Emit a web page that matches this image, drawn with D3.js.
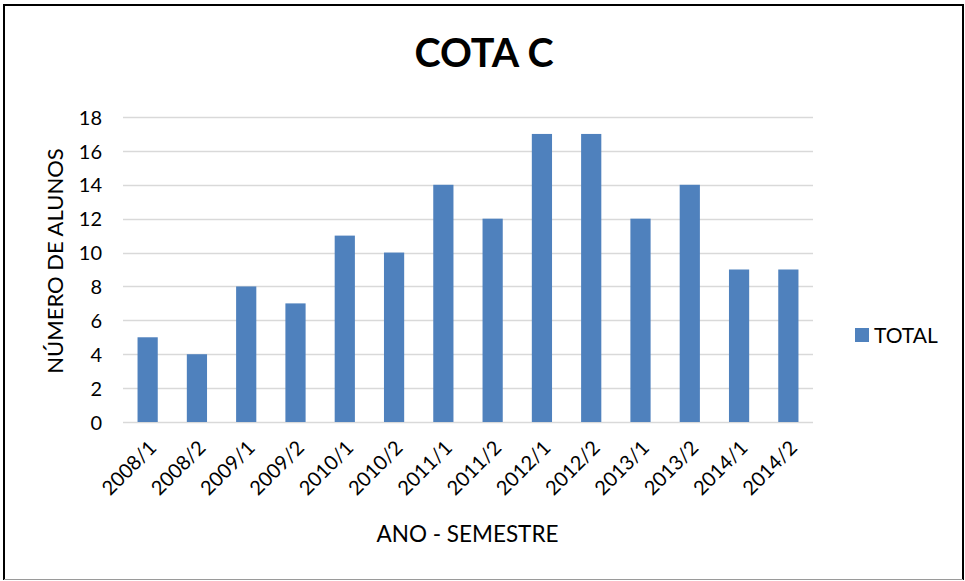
<!DOCTYPE html>
<html>
<head>
<meta charset="utf-8">
<script src="https://cdn.jsdelivr.net/npm/d3@7"></script>
<style>
  body { margin: 0; background: #fff; }
  text { font-family: Lato, "Open Sans", sans-serif; fill: #000; }
</style>
</head>
<body>
<div id="chart"></div>
<script>
'use strict';

var categories = ['2008/1', '2008/2', '2009/1', '2009/2', '2010/1', '2010/2', '2011/1',
                  '2011/2', '2012/1', '2012/2', '2013/1', '2013/2', '2014/1', '2014/2'];
var totals = [5, 4, 8, 7, 11, 10, 14, 12, 17, 17, 12, 14, 9, 9];
var yTicks = [0, 2, 4, 6, 8, 10, 12, 14, 16, 18];
var seriesName = 'TOTAL';

var width = 965, height = 581;
var margin = { top: 117, right: 152, bottom: 159, left: 123 };
var barColor = '#4f81bd';
var gridColor = '#d9d9d9';
var tickFont = 20;

var svg = d3.select('#chart').append('svg')
    .attr('width', width)
    .attr('height', height);

// chart frame
svg.append('path')
    .attr('d', 'M4,580 L4,5 L963,5 L963,580')
    .attr('fill', 'none')
    .attr('stroke', '#000')
    .attr('stroke-width', 2);
svg.append('line')
    .attr('x1', 4).attr('x2', 963)
    .attr('y1', 579.5).attr('y2', 579.5)
    .attr('stroke', '#9a9a9a');

var x = d3.scaleBand()
    .domain(categories)
    .range([margin.left, width - margin.right])
    .paddingInner(0.59)
    .paddingOuter(0.295);

var y = d3.scaleLinear()
    .domain([0, 18])
    .range([height - margin.bottom, margin.top]);

// gridlines
svg.append('g')
    .selectAll('line')
    .data(yTicks)
    .enter()
    .append('line')
    .attr('x1', margin.left)
    .attr('x2', width - margin.right)
    .attr('y1', function(d) { return Math.round(y(d)) + 0.5; })
    .attr('y2', function(d) { return Math.round(y(d)) + 0.5; })
    .attr('stroke', gridColor)
    .attr('stroke-width', 1.5);

// y axis labels
var yAxis = d3.axisLeft(y).tickValues(yTicks).tickSize(0).tickPadding(0);
var gy = svg.append('g')
    .attr('transform', 'translate(' + (margin.left - 21) + ',0)')
    .call(yAxis);
gy.select('.domain').remove();
gy.selectAll('text')
    .style('font-size', tickFont + 'px')
    .attr('dy', '0.36em');

// bars
svg.selectAll('rect.bar')
    .data(totals)
    .enter()
    .append('rect')
    .attr('class', 'bar')
    .attr('x', function(d, i) { return x(categories[i]); })
    .attr('width', x.bandwidth())
    .attr('y', function(d) { return y(d); })
    .attr('height', function(d) { return y(0) - y(d); })
    .attr('fill', barColor);

// x axis labels
var xAxis = d3.axisBottom(x).tickSize(0).tickPadding(0);
var gx = svg.append('g')
    .attr('transform', 'translate(0,' + (height - margin.bottom) + ')')
    .call(xAxis);
gx.select('.domain').remove();
gx.selectAll('text')
    .style('font-size', tickFont + 'px')
    .attr('text-anchor', 'end')
    .attr('dy', null)
    .attr('y', 0)
    .attr('transform', 'translate(10,27) rotate(-45)');

// titles
svg.append('text')
    .attr('x', 484)
    .attr('y', 67)
    .attr('text-anchor', 'middle')
    .style('font-size', '39.5px')
    .style('font-weight', 'bold')
    .text('COTA C');

svg.append('text')
    .attr('x', 467.5)
    .attr('y', 542)
    .attr('text-anchor', 'middle')
    .style('font-size', '22.5px')
    .text('ANO - SEMESTRE');

svg.append('text')
    .attr('transform', 'translate(63,' + 261 + ') rotate(-90)')
    .attr('text-anchor', 'middle')
    .style('font-size', '22px')
    .text('NÚMERO DE ALUNOS');

// legend
var legend = svg.append('g').attr('transform', 'translate(855,328)');
legend.append('rect')
    .attr('width', 14)
    .attr('height', 14)
    .attr('fill', barColor);
legend.append('text')
    .attr('x', 19)
    .attr('y', 14.5)
    .style('font-size', '21px')
    .text(seriesName);
</script>
</body>
</html>
